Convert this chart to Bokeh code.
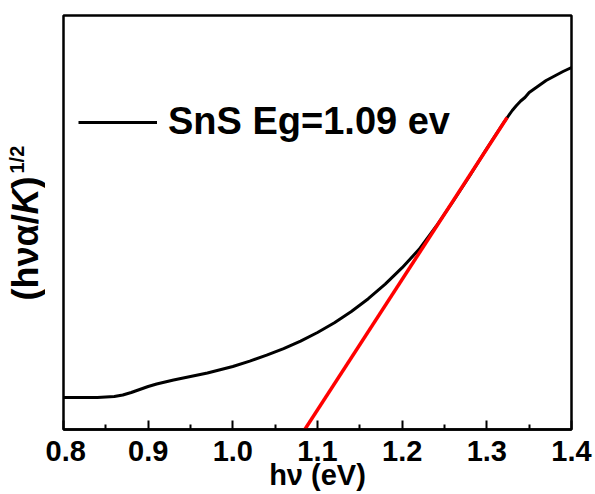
import math
from bokeh.plotting import figure
from bokeh.layouts import row
from bokeh.models import (Range1d, Label, Legend, LegendItem, FixedTicker,
                          PrintfTickFormatter)
from bokeh.embed import file_html
from bokeh.resources import INLINE

# Measured spectrum: photon energy (eV) vs (h nu alpha / K)^(1/2) (arb. units)
energy = [0.80, 0.82, 0.84, 0.86, 0.87, 0.88, 0.89, 0.90, 0.91, 0.92,
          0.93, 0.95, 0.97, 1.00, 1.02, 1.04, 1.06, 1.08, 1.10, 1.12,
          1.14, 1.16, 1.18, 1.20, 1.22, 1.24, 1.26, 1.28, 1.30, 1.32,
          1.325, 1.33, 1.335, 1.34, 1.345, 1.35, 1.36, 1.37, 1.38, 1.39,
          1.395, 1.40]
signal = [0.32, 0.32, 0.32, 0.33, 0.345, 0.37, 0.40, 0.43, 0.455, 0.475,
          0.495, 0.53, 0.565, 0.63, 0.684, 0.743, 0.809, 0.884, 0.97, 1.068,
          1.18, 1.308, 1.454, 1.618, 1.802, 2.03, 2.28, 2.54, 2.81, 3.07,
          3.13, 3.19, 3.24, 3.285, 3.32, 3.37, 3.43, 3.49, 3.535, 3.58,
          3.60, 3.62]

# Linear (Tauc) fit extrapolated to the energy axis
fit_x = [1.085, 1.324]
fit_y = [0.0, 3.12]

x_ticks = [0.8, 0.9, 1.0, 1.1, 1.2, 1.3, 1.4]
x_minor = [0.85, 0.95, 1.05, 1.15, 1.25, 1.35]
legend_text = "SnS Eg=1.09 ev"
x_label = "h\u03bd (eV)"

FONT = "Liberation Sans"
LEFT_W = 45

p = figure(width=595 - LEFT_W, height=494, output_backend="svg",
           toolbar_location=None,
           x_range=Range1d(0.8, 1.4), y_range=Range1d(0, 4.14),
           min_border_left=63 - LEFT_W, min_border_right=24, min_border_top=15,
           min_border_bottom=65)
p.background_fill_color = "white"
p.border_fill_color = "white"
p.grid.visible = False
p.outline_line_color = "black"
p.outline_line_width = 2.5
p.yaxis.visible = False

xa = p.xaxis[0]
xa.ticker = FixedTicker(ticks=x_ticks, minor_ticks=x_minor)
xa.formatter = PrintfTickFormatter(format="%.1f")
xa.axis_line_width = 2.5
xa.major_tick_in = 9
xa.major_tick_out = 0
xa.minor_tick_in = 5
xa.minor_tick_out = 0
xa.major_tick_line_width = 2
xa.minor_tick_line_width = 2
xa.major_label_text_font = FONT
xa.major_label_text_font_style = "bold"
xa.major_label_text_font_size = "29px"
xa.major_label_text_color = "black"
xa.major_label_standoff = 11
xa.axis_label = x_label
xa.axis_label_text_font = FONT
xa.axis_label_text_font_style = "bold"
xa.axis_label_text_font_size = "29px"
xa.axis_label_text_color = "black"
xa.axis_label_standoff = -5

curve = p.line(energy, signal, line_color="black", line_width=3)
p.line(fit_x, fit_y, line_color="#ff0000", line_width=3.5)

legend = Legend(items=[LegendItem(label=legend_text, renderers=[curve])],
                location=(15, 286), orientation="vertical",
                glyph_width=79, label_standoff=11, padding=0, margin=0,
                border_line_color=None, background_fill_alpha=0,
                label_text_font=FONT, label_text_font_style="bold",
                label_text_font_size="38px", label_text_color="black")
p.add_layout(legend, "center")

# Left strip holding the rotated y-axis title (italic K, superscript 1/2)
q = figure(width=LEFT_W, height=494, output_backend="svg", toolbar_location=None,
           x_axis_type=None, y_axis_type=None, min_border=0,
           x_range=Range1d(0, 1), y_range=Range1d(0, 1))
q.outline_line_color = None
q.grid.visible = False
q.background_fill_color = "white"
q.border_fill_color = "white"

# (text, style, size, position along the title, offset across it)
pieces = [("(h\u03bd\u03b1/", "bold", 36, 129, 25),
          ("K", "bold italic", 36, 215, 25),
          (")", "bold", 36, 241, 25),
          ("1/2", "bold", 20, 256, 16)]
for txt, style, size, ypos, xpos in pieces:
    q.add_layout(Label(x=xpos, y=ypos, x_units="screen", y_units="screen",
                       text=txt, angle=math.pi / 2, text_align="left",
                       text_baseline="middle", text_font=FONT,
                       text_font_style=style, text_font_size=f"{size}px",
                       text_color="black"))

layout = row(q, p, spacing=0)
open("out.html", "w").write(file_html(layout, INLINE))
